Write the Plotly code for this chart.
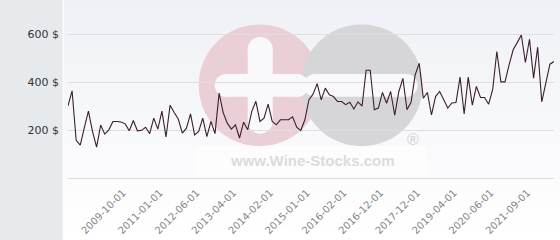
import plotly.graph_objects as go

# ---- data ----
values = [301, 364, 157, 137, 210, 279, 195, 129, 221, 183,
          201, 236, 236, 234, 226, 197, 240, 197, 199, 212,
          185, 250, 204, 279, 171, 304, 273, 246, 187, 208,
          268, 180, 194, 250, 173, 236, 185, 354, 273, 229,
          204, 222, 167, 233, 201, 278, 320, 236, 250, 308,
          236, 222, 243, 243, 243, 255, 212, 198, 243, 327,
          350, 394, 326, 375, 347, 340, 319, 319, 306, 316,
          288, 318, 300, 450, 450, 285, 292, 357, 312, 361,
          262, 360, 416, 285, 316, 430, 479, 333, 357, 263,
          340, 361, 326, 292, 313, 315, 421, 267, 421, 304,
          382, 336, 336, 308, 371, 528, 401, 401, 472, 535,
          565, 597, 482, 579, 417, 546, 318, 403, 475, 486]
tick_labels = ["2009-10-01", "2011-01-01", "2012-06-01", "2013-04-01",
               "2014-02-01", "2015-01-01", "2016-02-01", "2016-12-01",
               "2017-12-01", "2019-04-01", "2020-06-01", "2021-09-01"]
first_tick_index = 13
tick_step = 9
y_ticks = [200, 400, 600]
y_tick_text = ["200 $", "400 $", "600 $"]

x_index = list(range(len(values)))
tick_index = [first_tick_index + tick_step * k for k in range(len(tick_labels))]

# ---- geometry (pixels) ----
W, H = 560, 240
L, R, T, B = 68.3, 5.7, 0.0, 61.7
PW, PH = W - L - R, H - T - B


def px(x):
    return (x - L) / PW


def py(y):
    return 1 - (y - T) / PH


shapes = []
# background gradient (top light grey-blue -> white)
nb = 48
c0, c1 = (239, 241, 246), (255, 255, 255)
for k in range(nb):
    f = k / (nb - 1)
    col = tuple(round(c0[j] + (c1[j] - c0[j]) * f) for j in range(3))
    y0 = H * k / nb
    y1 = H * (k + 1) / nb + 0.6
    shapes.append(dict(type="rect", xref="paper", yref="paper",
                       x0=px(63), x1=px(W + 2), y0=py(y1), y1=py(y0),
                       fillcolor="rgb(%d,%d,%d)" % col, line_width=0, layer="below"))
# left grey panel
shapes.append(dict(type="rect", xref="paper", yref="paper",
                   x0=px(-2), x1=px(63), y0=py(H + 2), y1=py(-2),
                   fillcolor="rgb(231,234,237)", line_width=0, layer="below"))
shapes.append(dict(type="rect", xref="paper", yref="paper",
                   x0=px(63), x1=px(64.3), y0=py(H + 2), y1=py(-2),
                   fillcolor="rgb(250,251,252)", line_width=0, layer="below"))
# watermark: white box behind text
shapes.append(dict(type="rect", xref="paper", yref="paper",
                   x0=px(197), x1=px(427), y0=py(176), y1=py(146),
                   fillcolor="rgba(255,255,255,0.6)", line_width=0, layer="below"))


def circle(cx, cy, r, color):
    return dict(type="circle", xref="paper", yref="paper",
                x0=px(cx - r), x1=px(cx + r), y0=py(cy + r), y1=py(cy - r),
                fillcolor=color, line_width=0, layer="below")


def pill(x0, x1, y0, y1, color):
    # rounded bar: rect + two end circles
    out = []
    if x1 - x0 >= y1 - y0:
        r = (y1 - y0) / 2
        out.append(dict(type="rect", xref="paper", yref="paper",
                        x0=px(x0 + r), x1=px(x1 - r), y0=py(y1), y1=py(y0),
                        fillcolor=color, line_width=0, layer="below"))
        out.append(circle(x0 + r, (y0 + y1) / 2, r, color))
        out.append(circle(x1 - r, (y0 + y1) / 2, r, color))
    else:
        r = (x1 - x0) / 2
        out.append(dict(type="rect", xref="paper", yref="paper",
                        x0=px(x0), x1=px(x1), y0=py(y1 - r), y1=py(y0 + r),
                        fillcolor=color, line_width=0, layer="below"))
        out.append(circle((x0 + x1) / 2, y0 + r, r, color))
        out.append(circle((x0 + x1) / 2, y1 - r, r, color))
    return out


shapes.append(circle(260, 85.5, 61, "rgb(235,207,214)"))
shapes.append(circle(362, 85.5, 61, "rgb(214,214,217)"))
bar = "rgb(249,249,251)"
shapes += pill(215, 309, 74, 97, bar)
shapes += pill(248, 273, 37, 134, bar)
shapes += pill(304, 418, 74, 97, bar)

annotations = [
    dict(xref="paper", yref="paper", x=px(313), y=py(160.5), text="<b>www.Wine-Stocks.com</b>",
         showarrow=False, xanchor="center", yanchor="middle",
         font=dict(family="Liberation Sans, Arial", size=15, color="rgb(219,219,222)")),
    dict(xref="paper", yref="paper", x=px(413), y=py(139.5), text="®",
         showarrow=False, xanchor="center", yanchor="middle",
         font=dict(family="Liberation Sans, Arial", size=16, color="rgb(208,208,211)")),
]

fig = go.Figure()
fig.add_trace(go.Scatter(x=x_index, y=values, mode="lines",
                         line=dict(color="#3b1e2d", width=1.1),
                         hoverinfo="skip", showlegend=False))

fig.update_layout(
    width=W, height=H,
    margin=dict(l=L, r=R, t=T, b=B, pad=0),
    paper_bgcolor="white",
    plot_bgcolor="rgba(0,0,0,0)",
    shapes=shapes,
    annotations=annotations,
    showlegend=False,
    xaxis=dict(range=[0, len(values) - 1], tickmode="array", tickvals=tick_index,
               ticktext=tick_labels, tickangle=-45, showgrid=False, zeroline=False,
               showline=True, linecolor="#dcdcdc", linewidth=1, ticks="",
               ticklabelstandoff=4, ticklabelshift=2,
               tickfont=dict(family="DejaVu Sans", size=10, color="#858585"),
               fixedrange=True),
    yaxis=dict(range=[0, PH / 0.24], tickmode="array", tickvals=y_ticks,
               ticktext=y_tick_text, showgrid=True, gridcolor="#dedede", gridwidth=1,
               zeroline=False, showline=False, ticks="", ticklabelstandoff=8,
               tickfont=dict(family="DejaVu Sans", size=11, color="#333333"),
               fixedrange=True),
)

fig.write_html("out.html", config={"displayModeBar": False, "staticPlot": True})
